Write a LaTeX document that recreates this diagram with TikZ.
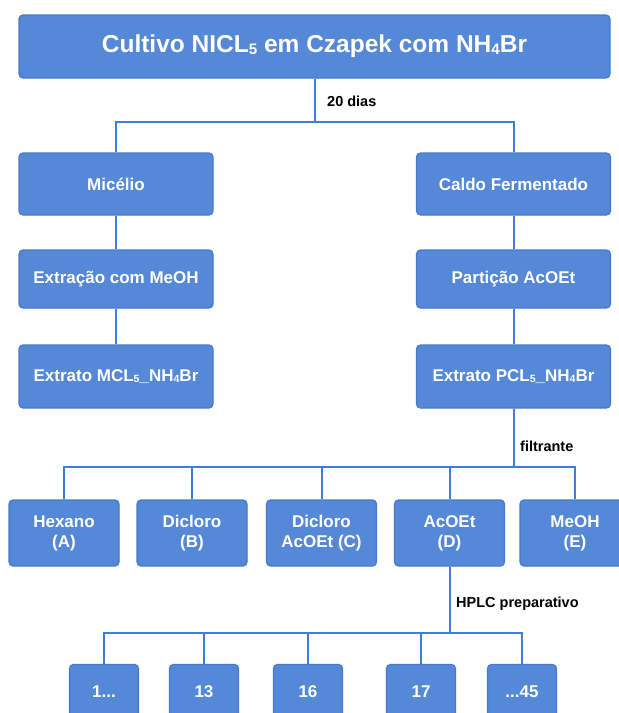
\documentclass[tikz,border=0pt]{standalone}
\usepackage{fontspec}
\setmainfont{Liberation Sans}
\definecolor{boxfill}{HTML}{5588D6}
\definecolor{boxline}{HTML}{4479CC}
\definecolor{conn}{HTML}{3C7DE0}
\newcommand{\smalldig}[1]{\raisebox{-0.15ex}{\scalebox{0.62}{#1}}}
\begin{document}
\begin{tikzpicture}[x=1pt,y=-1pt,
  box/.style={draw=boxline, line width=1.2pt, fill=boxfill, rounded corners=4pt, text=white,
    font=\bfseries\fontsize{17}{20}\selectfont, align=center, inner sep=0pt},
  conn/.style={draw=conn, line width=2pt},
  lab/.style={anchor=west, font=\bfseries\fontsize{14.5}{16}\selectfont, inner sep=0pt}]
\useasboundingbox (0,0) rectangle (619,713);
% nodes
\node[box, minimum width=591pt, minimum height=63pt, font=\bfseries\fontsize{24.5}{28}\selectfont] (top) at (314.5,46.5) {Cultivo NICL\smalldig{5} em Czapek com NH\smalldig{4}Br};
\node[box, minimum width=194pt, minimum height=62pt] (mic) at (116,184) {Micélio};
\node[box, minimum width=194pt, minimum height=62pt] (cal) at (513.5,184) {Caldo Fermentado};
\node[box, minimum width=194pt, minimum height=58pt] (ext) at (116,279) {Extração com MeOH};
\node[box, minimum width=194pt, minimum height=58pt] (par) at (513.5,279) {Partição AcOEt};
\node[box, minimum width=194pt, minimum height=63pt] (mcl) at (116,376.5) {Extrato MCL\smalldig{5}\_NH\smalldig{4}Br};
\node[box, minimum width=194pt, minimum height=63pt] (pcl) at (513.5,376.5) {Extrato PCL\smalldig{5}\_NH\smalldig{4}Br};
\node[box, minimum width=110pt, minimum height=66pt] (hex) at (64,533) {Hexano\\(A)};
\node[box, minimum width=110pt, minimum height=66pt] (dcb) at (192,533) {Dicloro\\(B)};
\node[box, minimum width=110pt, minimum height=66pt] (dcc) at (321.5,533) {Dicloro\\AcOEt (C)};
\node[box, minimum width=110pt, minimum height=66pt] (aco) at (449.5,533) {AcOEt\\(D)};
\node[box, minimum width=110pt, minimum height=66pt] (meo) at (575,533) {MeOH\\(E)};
\node[box, minimum width=69pt, minimum height=55pt] (f1) at (104,692) {1...};
\node[box, minimum width=69pt, minimum height=55pt] (f13) at (204,692) {13};
\node[box, minimum width=69pt, minimum height=55pt] (f16) at (308,692) {16};
\node[box, minimum width=69pt, minimum height=55pt] (f17) at (421,692) {17};
\node[box, minimum width=69pt, minimum height=55pt] (f45) at (522,692) {...45};
% junctions
\coordinate (j1) at (314.5,122);
\coordinate (j2) at (513.5,467);
\coordinate (j3) at (449.5,633);
% connectors
\draw[conn] (top.south) -- (j1);
\draw[conn] (mic.north) |- (j1) -| (cal.north);
\draw[conn] (mic) -- (ext);
\draw[conn] (ext) -- (mcl);
\draw[conn] (cal) -- (par);
\draw[conn] (par) -- (pcl);
\draw[conn] (pcl.south) -- (j2);
\draw[conn] (hex.north) |- (j2) -| (meo.north);
\draw[conn] (dcb.north) -- (dcb.north |- j2);
\draw[conn] (dcc.north) -- (dcc.north |- j2);
\draw[conn] (aco.north) -- (aco.north |- j2);
\draw[conn] (aco.south) -- (j3);
\draw[conn] (f1.north) |- (j3) -| (f45.north);
\draw[conn] (f13.north) -- (f13.north |- j3);
\draw[conn] (f16.north) -- (f16.north |- j3);
\draw[conn] (f17.north) -- (f17.north |- j3);
% labels
\node[lab] (l20) at (327,101) {20 dias};
\node[lab] (lfil) at (520,446) {filtrante};
\node[lab] (lhplc) at (456,604) {HPLC preparativo};
\end{tikzpicture}
\end{document}
